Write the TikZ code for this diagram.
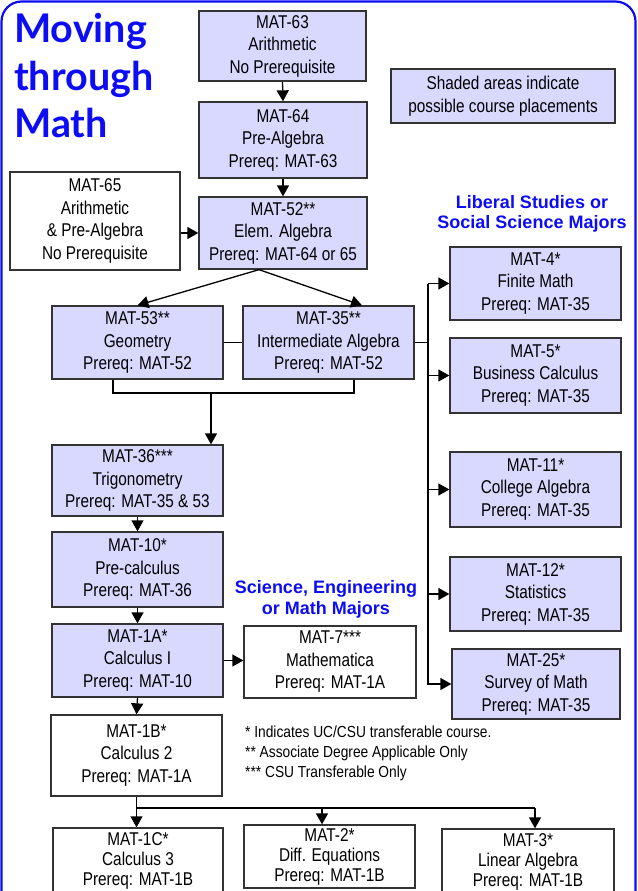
\documentclass[tikz,border=0pt]{standalone}
\usepackage{fontspec}
\setmainfont{Liberation Sans}[FakeStretch=0.83]
\newfontfamily\notefont{Liberation Sans}[FakeStretch=0.86]
\newfontfamily\headfont{Liberation Sans}
\newfontfamily\titlefont{Lato}
\usetikzlibrary{arrows.meta}
\definecolor{shade}{RGB}{217,217,255}
\definecolor{framecol}{RGB}{12,12,245}

\begin{document}
\begin{tikzpicture}
  [
    x=1pt, y=-1pt,
    boxsize/.style 2 args={minimum width=#1pt, minimum height=#2pt},
    course/.style={draw=black!80, line width=1.3pt, fill=shade, align=center,
      inner sep=0pt, font=\fontsize{18.5}{22.5}\selectfont},
    plain/.style={course, fill=white},
    tight/.style={font=\fontsize{18.5}{20}\selectfont},
    link/.style={line width=1.3pt},
    arr/.style={link, -{Triangle[width=12pt,length=11pt]}},
    heading/.style={text=framecol, align=center, inner sep=0pt,
      font=\headfont\bfseries\fontsize{18}{20}\selectfont},
    title/.style={text=framecol, anchor=base west, inner sep=0pt,
      font=\titlefont\bfseries\fontsize{39.5}{47}\selectfont}
  ]
  \useasboundingbox (0,0) rectangle (637,891);
  \clip (0,0) rectangle (637,891);
  % frame
  \draw [framecol, line width=2.2pt, rounded corners=20pt] (1.5,1.5) rectangle (635.5,910);
  % title
  \node [title] (t1) at (14,43) {Moving};
  \node [title] (t2) at (14,90) {through};
  \node [title] (t3) at (14,137) {Math};
  % basic courses
  \node [course, boxsize={167}{70}] (m63) at (282.5,46) {MAT-63\\Arithmetic\\No Prerequisite};
  \node [course, boxsize={168}{76}] (m64) at (283,140) {MAT-64\\Pre-Algebra\\Prereq: MAT-63};
  \node [course, boxsize={168}{72}] (m52) at (283,233) {MAT-52**\\Elem. Algebra\\Prereq: MAT-64 or 65};
  \node [plain, boxsize={170}{98}] (m65) at (95,221) {MAT-65\\Arithmetic\\\& Pre-Algebra\\No Prerequisite};
  \node [course, boxsize={224}{54}] (legend) at (503,96) {Shaded areas indicate\\possible course placements};
  \node [course, boxsize={171}{73}] (m53) at (137.5,342.5) {MAT-53**\\Geometry\\Prereq: MAT-52};
  \node [course, boxsize={171}{73}] (m35) at (328.5,342.5) {MAT-35**\\Intermediate Algebra\\Prereq: MAT-52};
  % science track
  \node [course, boxsize={171}{71}] (m36) at (137.5,480.5) {MAT-36***\\Trigonometry\\Prereq: MAT-35 \& 53};
  \node [course, boxsize={171}{75}] (m10) at (137.5,569.5) {MAT-10*\\Pre-calculus\\Prereq: MAT-36};
  \node [course, boxsize={171}{73}] (m1a) at (137.5,660.5) {MAT-1A*\\Calculus I\\Prereq: MAT-10};
  \node [plain, boxsize={172}{72}] (m7) at (330,662) {MAT-7***\\Mathematica\\Prereq: MAT-1A};
  \node [plain, boxsize={171}{81}] (m1b) at (136.5,755.5) {MAT-1B*\\Calculus 2\\Prereq: MAT-1A};
  \node [plain, tight, boxsize={170}{66}] (m1c) at (138,861) {MAT-1C*\\Calculus 3\\Prereq: MAT-1B};
  \node [plain, tight, boxsize={171}{63}] (m2) at (329.5,856.5) {MAT-2*\\Diff. Equations\\Prereq: MAT-1B};
  \node [plain, tight, boxsize={172}{66}] (m3) at (528,862) {MAT-3*\\Linear Algebra\\Prereq: MAT-1B};
  % liberal studies track
  \node [course, boxsize={171}{73}] (m4) at (535.5,283.5) {MAT-4*\\Finite Math\\Prereq: MAT-35};
  \node [course, boxsize={171}{75}] (m5) at (535.5,375.5) {MAT-5*\\Business Calculus\\Prereq: MAT-35};
  \node [course, boxsize={171}{75}] (m11) at (535.5,489.5) {MAT-11*\\College Algebra\\Prereq: MAT-35};
  \node [course, boxsize={171}{74}] (m12) at (535.5,594) {MAT-12*\\Statistics\\Prereq: MAT-35};
  \node [course, boxsize={168}{70}] (m25) at (536,684) {MAT-25*\\Survey of Math\\Prereq: MAT-35};
  % headings and notes
  \node [heading] (lib) at (532,214) {Liberal Studies or\\Social Science Majors};
  \node [heading, font=\headfont\bfseries\fontsize{18}{21}\selectfont] (sci) at (326,599) {Science, Engineering\\or Math Majors};
  \node [anchor=west, align=left, inner sep=0pt, font=\notefont\fontsize{16}{20}\selectfont] (notes) at (245,753)
    {* Indicates UC/CSU transferable course.\\** Associate Degree Applicable Only\\*** CSU Transferable Only};
  % top chain
  \draw [arr] (m63.south) -- (m64.north);
  \draw [arr] (m64.south) -- (m52.north);
  \draw [arr] (m65.east |- m52.west) -- (m52.west);
  \coordinate (fork) at ([xshift=-24pt]m52.south);
  \draw [arr] (fork) -- (m53.north);
  \draw [arr] (fork) -- ([xshift=33.5pt]m35.north);
  \draw [link] (m53.east) -- (m35.west);
  % join to trigonometry
  \coordinate (join) at (211,393);
  \draw [link] ([xshift=-24.5pt]m53.south) |- (join) -| ([xshift=25.5pt]m35.south);
  \draw [arr] (join) -- (join |- m36.north);
  \draw [arr] (m36.south) -- (m10.north);
  \draw [arr] (m10.south) -- (m1a.north);
  \draw [arr] (m1a.south) -- (m1b.north);
  \draw [arr] (m1a.east) -- (m1a.east -| m7.west);
  % bus to the right column
  \coordinate (bus) at (428,0);
  \draw [link] (m35.east) -- (m35.east -| bus);
  \draw [arr] (m4.west -| bus) |- (m25.west);
  \foreach \n in {m4,m5,m11,m12} {
    \draw [arr] (\n.west -| bus) -- (\n.west);
  }
  % split below calculus 2
  \coordinate (split) at (136.5,808);
  \coordinate (d2) at (322,808);
  \coordinate (d3) at (535,808);
  \draw [link] (split) -- (d3);
  \draw [arr] (m1b.south) -- (m1b.south |- m1c.north);
  \draw [arr] (d2) -- (d2 |- m2.north);
  \draw [arr] (d3) -- (d3 |- m3.north);
\end{tikzpicture}
\end{document}
